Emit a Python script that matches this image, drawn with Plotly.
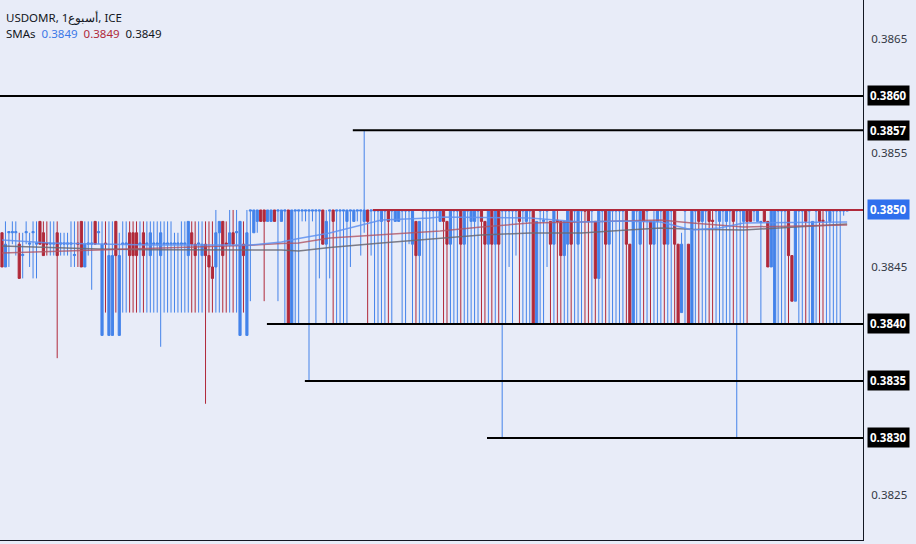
import plotly.graph_objects as go

# ---- data (prices in pips above 0.3800) ----
BASE = 0.38
PIP = 0.0001

open_p = [
    48, 45, 48, 48, 48, 47, 46, 48, 47, 48,
    47, 49, 48, 47.1, 47, 47, 48, 47, 47, 47,
    47, 46, 47.1, 49, 45, 47, 47, 49, 48, 39,
    47.1, 39, 39, 49, 39, 47, 47, 48, 48, 48,
    47, 48, 47, 46, 47, 47, 46, 47, 47, 47,
    47, 47, 47, 47, 46, 48, 47, 47, 46, 47,
    46, 45, 45, 48, 49, 47.1, 47, 48, 48, 39,
    47, 39, 49.9, 48, 49, 50, 50, 49, 49, 50,
    49.9, 49, 49.9, 50, 40, 49.9, 49.9, 49.9, 49.9, 49.9,
    49.9, 49.9, 49.9, 50, 47, 49.9, 50, 49.9, 49.9, 49.9,
    49, 49.9, 49, 49.9, 49.9, 49, 50, 49.9, 49.9, 49.9,
    49, 49.9, 50, 49.9, 49, 49, 49.9, 49.9, 49.9, 47,
    49, 46, 49.9, 49.9, 49.9, 49.9, 49.9, 49, 50, 49,
    47, 49.9, 49.9, 50, 47, 49.9, 49, 49, 49.9, 50,
    49, 47, 50, 47, 50, 49.9, 49.9, 49.9, 49.9, 49.9,
    50, 49.9, 49, 49.9, 50, 40, 49.9, 49, 49.9, 49,
    47, 49.1, 49, 46, 47, 50, 49.9, 47, 49.9, 50,
    50, 49.9, 49, 44, 49.9, 50, 47, 49.9, 49.9, 49.9,
    49.9, 50, 47, 40, 49.9, 47, 50, 49.9, 49, 47,
    49, 49.9, 50, 47, 49.9, 50, 47, 41, 49.9, 47,
    40, 49.9, 50, 49, 49.9, 50, 49.1, 49.9, 49, 49.9,
    49, 49.9, 50, 49.9, 49.9, 49, 50, 50, 49.9, 49,
    48.9, 50, 49, 45, 40, 49.9, 49.9, 49.9, 50, 46,
    42, 49.9, 49.9, 50, 49.9, 40, 49.9, 50, 49.1, 49.9,
    49, 49.9, 49.9, 49.9, 49.9, 49.9,
]

high_p = [
    48, 49, 48.1, 49, 49, 48, 48, 49, 48, 49,
    49, 49, 49, 49, 49, 49, 49, 48, 48, 48,
    49, 49, 49, 49, 49, 49, 49, 49, 49, 49,
    49, 49, 49, 49, 48, 49, 49, 49, 49, 49,
    49, 49, 49, 49, 49, 49, 49, 49, 49, 49,
    48, 48, 49, 49, 49, 49, 49, 49, 49, 49,
    49, 49, 50, 49, 49, 49, 50, 50, 50, 49,
    49, 50, 50, 50, 50, 50, 50, 50, 50, 50,
    50, 50, 50, 50, 50, 50, 50, 50, 50, 50,
    50, 50, 50, 50, 50, 50, 50, 50, 50, 50,
    50, 50, 50, 50, 50, 57, 50, 50, 50, 50,
    50, 50, 50, 50, 50, 50, 50, 50, 50, 50,
    49, 49, 50, 50, 50, 50, 50, 50, 50, 49,
    50, 50, 50, 50, 50, 50, 50, 50, 50, 50,
    49, 50, 50, 50, 50, 50, 50, 50, 50, 50,
    50, 50, 50, 50, 50, 49, 50, 50, 50, 49,
    50, 50, 49, 49, 50, 50, 50, 50, 50, 50,
    50, 50, 49, 50, 50, 50, 50, 50, 50, 50,
    50, 50, 47, 50, 50, 50, 50, 50, 49, 50,
    50, 50, 50, 50, 50, 50, 47, 48, 50, 47,
    50, 50, 50, 50, 50, 50, 50, 50, 50, 50,
    50, 50, 50, 50, 50, 50, 50, 50, 50, 50,
    49, 50, 49, 50, 50, 50, 50, 50, 50, 46,
    50, 50, 50, 50, 50, 49, 50, 50, 50, 50,
    50, 50, 50, 50, 50, 50,
]

low_p = [
    45, 45, 45, 47, 46, 44, 44, 47, 45, 44,
    44, 47, 46, 46, 46, 46, 37, 46, 46, 46,
    45, 45, 45, 45, 45, 46, 43, 47, 47, 39,
    41, 39, 39, 41, 39, 41, 41, 41, 41, 41,
    41, 41, 41, 41, 41, 41, 38, 41, 41, 41,
    41, 41, 41, 41, 41, 41, 41, 41, 41, 33,
    41, 41, 41, 41, 41, 41, 41, 41, 41, 39,
    41, 39, 42, 48, 48, 49, 42, 49, 49, 49,
    42, 49, 40, 40, 40, 40, 40, 49, 49, 35,
    49, 40, 44, 47, 40, 44, 40, 40, 40, 40,
    40, 45, 49, 49, 46, 48, 40, 46, 40, 40,
    40, 40, 40, 40, 49, 49, 40, 40, 47, 40,
    40, 40, 40, 40, 40, 40, 40, 49, 40, 40,
    40, 40, 40, 40, 40, 40, 40, 40, 40, 40,
    40, 40, 40, 40, 40, 30, 40, 45, 40, 46,
    40, 40, 40, 40, 40, 40, 40, 40, 45, 40,
    40, 40, 40, 40, 40, 40, 40, 40, 40, 40,
    40, 40, 40, 40, 40, 40, 40, 40, 40, 40,
    40, 40, 40, 40, 40, 40, 40, 40, 40, 40,
    40, 40, 40, 40, 40, 40, 40, 41, 40, 40,
    40, 40, 40, 40, 40, 40, 40, 40, 40, 40,
    40, 40, 40, 30, 40, 40, 40, 49, 49, 49,
    40, 49, 45, 45, 40, 40, 40, 40, 40, 42,
    42, 40, 40, 40, 40, 40, 40, 40, 40, 40,
    40, 40, 40, 40, 49.5, 49.9,
]

close_p = [
    45, 47, 48.1, 48.1, 48.1, 44, 46.1, 48.1, 47.1, 48.1,
    47.1, 47, 46, 47, 47.1, 47.1, 46, 47.1, 47.1, 47.1,
    47.1, 46.1, 47, 45, 47, 47.1, 47.1, 47, 48.1, 47,
    47, 46, 46, 46, 46, 47.1, 47.1, 46, 46, 46,
    47.1, 46, 47.1, 48, 47.1, 47.1, 48, 47.1, 47.1, 47.1,
    47.1, 47.1, 47.1, 47.1, 49, 47, 46, 47.1, 47, 46,
    45, 44, 48, 49, 46, 47, 48, 47, 48.1, 49,
    46, 48, 50, 50, 50, 49, 49, 50, 50, 49,
    50, 50, 50, 40, 50, 50, 50, 50, 50, 50,
    50, 50, 50, 47, 49, 50, 49, 50, 50, 50,
    50, 50, 50, 50, 50, 50, 49, 50, 50, 50,
    50, 50, 49, 50, 50, 50, 50, 50, 50, 50,
    46, 49, 50, 50, 50, 50, 50, 50, 49, 47,
    50, 50, 50, 47, 50, 50, 50, 50, 50, 49,
    47, 50, 47, 50, 47, 50, 50, 50, 50, 50,
    49, 50, 50, 50, 40, 49, 50, 49.1, 50, 47,
    50, 49, 46, 49, 50, 47, 50, 50, 50, 49.9,
    49, 50, 44, 50, 50, 47, 50, 50, 50, 50,
    50, 47, 40, 50, 50, 50, 49, 50, 47, 49,
    50, 50, 47, 50, 50, 47, 40, 47, 50, 40,
    50, 50, 49, 50, 50, 49, 49, 50, 50, 50,
    50, 50, 49, 50, 50, 50, 49, 49, 50, 50,
    49, 49, 45, 50, 50, 50, 50, 50, 46, 42,
    50, 50, 50, 49, 50, 49, 50, 49, 49, 50,
    50, 50, 50, 50, 50, 50,
]

# SMA lines read at sample candles
sma_idx = [0, 14, 28, 43, 57, 72, 81, 86, 95, 110, 124, 127, 139, 153, 168, 179, 191, 200, 208, 215, 245]
sma_fast = [47.37, 47.11, 47.02, 46.93, 46.93, 46.93, 47.19, 47.5, 47.98, 49.12, 49.3, 49.39, 49.35, 49.30,
            48.95, 49.04, 48.95, 48.25, 48.42, 48.86, 48.95]
sma_mid = [46.23, 46.35, 46.49, 46.6, 46.75, 46.9, 47.05, 47.11, 47.54, 47.8, 48.07, 48.15, 48.5, 48.86,
           48.95, 49.0, 49.12, 48.86, 48.7, 48.51, 48.68]
sma_slow = [46.84, 46.7, 46.58, 46.52, 46.49, 46.45, 46.49, 46.4, 46.7, 47.11, 47.45, 47.5, 47.81, 47.98,
            47.98, 48.2, 48.42, 48.3, 48.25, 48.25, 48.77]

# horizontal price levels and the candle where each starts
level_price = [0.3860, 0.3857, 0.3850, 0.3840, 0.3835, 0.3830]
level_start = [-1, 101.7, 107.5, 76.8, 87.8, 140.6]
level_label = ["0.3860", "0.3857", "0.3850", "0.3840", "0.3835", "0.3830"]

# plain axis ticks that stay visible (the others sit under the level labels)
tick_vals = [0.3825, 0.3845, 0.3855, 0.3865]

header_title = "USDOMR, 1أسبوع, ICE"
sma_label_values = ["0.3849", "0.3849", "0.3849"]


def to_price(vals):
    return [round(BASE + v * PIP, 6) for v in vals]


xs = list(range(len(open_p)))

BG = "#e8ecf8"
BLUE = "#4483ea"
RED = "#b0293a"
DARK = "#131722"
XMAX = 249.6
FONT = "Noto Sans"

fig = go.Figure()
fig.add_trace(go.Candlestick(
    x=xs, open=to_price(open_p), high=to_price(high_p), low=to_price(low_p), close=to_price(close_p),
    increasing=dict(line=dict(color=BLUE, width=1), fillcolor=BLUE),
    decreasing=dict(line=dict(color=RED, width=1), fillcolor=RED),
    whiskerwidth=0, hoverinfo="skip", showlegend=False,
))

for vals, col in [(sma_slow, "rgba(105,105,115,0.85)"), (sma_mid, "rgba(175,85,100,0.8)"),
                  (sma_fast, "rgba(95,145,240,0.85)")]:
    fig.add_trace(go.Scatter(x=sma_idx, y=to_price(vals), mode="lines",
                             line=dict(color=col, width=1.5), hoverinfo="skip", showlegend=False))

shapes = []
annotations = []
for p, s, lab in zip(level_price, level_start, level_label):
    is_last = lab == "0.3850"
    col = RED if is_last else "#000000"
    shapes.append(dict(type="line", xref="x", yref="y", x0=s, x1=XMAX, y0=p, y1=p,
                       line=dict(color=col, width=2), layer="above"))
    annotations.append(dict(xref="paper", yref="y", x=1, y=p, xanchor="left", yanchor="middle",
                            xshift=4, showarrow=False, text="<b>%s</b>" % lab,
                            font=dict(family=FONT, size=11.5, color="white"),
                            bgcolor="#2f6fed" if is_last else "#000000", borderpad=2))

annotations.append(dict(xref="paper", yref="paper", x=0, y=1, xanchor="left", yanchor="top",
                        xshift=4, yshift=-8, showarrow=False, text=header_title,
                        font=dict(family=FONT, size=11.5, color=DARK)))
sma_text = ("SMAs  <span style='color:#3b78e7'>%s</span>  <span style='color:#b0293a'>%s</span>"
            "  <span style='color:%s'>%s</span>") % (sma_label_values[0], sma_label_values[1], DARK,
                                                    sma_label_values[2])
annotations.append(dict(xref="paper", yref="paper", x=0, y=1, xanchor="left", yanchor="top",
                        xshift=4, yshift=-24, showarrow=False, text=sma_text,
                        font=dict(family=FONT, size=11.5, color=DARK)))

fig.update_layout(
    width=916, height=544,
    margin=dict(l=0, r=53, t=0, b=4),
    paper_bgcolor=BG, plot_bgcolor=BG,
    boxgap=0.1,
    shapes=shapes, annotations=annotations,
    xaxis=dict(range=[-0.58, XMAX], showticklabels=False, showgrid=False, zeroline=False,
               showline=True, linecolor=DARK, linewidth=1, rangeslider=dict(visible=False),
               fixedrange=True),
    yaxis=dict(side="right", range=[0.382105, 0.386842], showgrid=False, zeroline=False,
               showline=True, linecolor=DARK, linewidth=1,
               tickvals=tick_vals, tickformat=".4f", ticks="outside", ticklen=5, tickcolor=BG,
               tickfont=dict(family=FONT, size=11.5, color="#333844"), fixedrange=True),
)

fig.write_html("out.html", config={"displayModeBar": False},
               post_script="document.body.style.margin='0';document.body.style.background='%s';" % BG)
